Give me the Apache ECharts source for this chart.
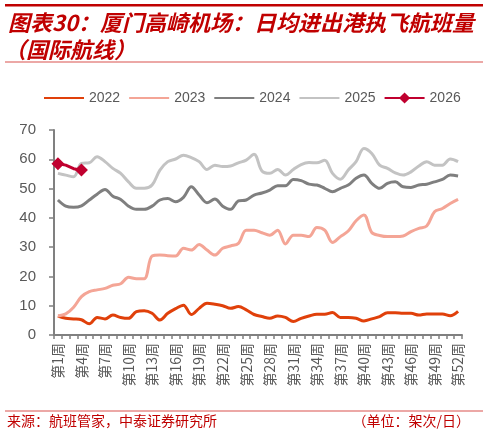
<!DOCTYPE html>
<html>
<head>
<meta charset="utf-8">
<script src="https://cdn.jsdelivr.net/npm/echarts@6/dist/echarts.min.js"></script>
<style>
  html, body { margin: 0; padding: 0; background: #fff; }
  #chart { width: 488px; height: 435px; }
</style>
</head>
<body>
<div id="chart"></div>
<script>
// 周次
const weeks = [];
for (let i = 1; i <= 52; i++) weeks.push("第" + i + "周");

// 日均进出港执飞航班量（架次/日）
const y2022 = [6.5, 5.7, 5.5, 5.2, 3.8, 6.0, 5.5, 6.8, 6.0, 5.7,
    8.0, 8.3, 7.4, 5.1, 7.4, 9.0, 10.2, 7.0, 9.1, 10.8,
    10.5, 10.0, 9.1, 9.7, 8.6, 7.0, 6.3, 5.7, 6.5, 6.0,
    4.6, 5.7, 6.5, 7.1, 7.1, 7.7, 6.0, 6.0, 5.7, 4.8,
    5.5, 6.3, 7.6, 7.6, 7.4, 7.4, 6.8, 7.2, 7.2, 7.2,
    6.6, 8.1];
const y2023 = [6.5, 7.2, 9.5, 13.1, 14.8, 15.4, 15.9, 17.0, 17.5, 19.7,
    19.2, 19.2, 27.0, 27.3, 27.1, 27.0, 29.6, 29.0, 30.9, 29.0,
    27.3, 29.6, 30.4, 31.3, 35.8, 35.8, 34.9, 34.1, 35.8, 31.1,
    34.1, 34.1, 33.6, 36.7, 35.8, 31.6, 33.6, 35.5, 39.0, 41.0,
    35.0, 34.0, 33.6, 33.6, 33.8, 35.3, 36.4, 37.2, 42.1, 43.2,
    44.9, 46.3];
const y2024 = [46.1, 44.0, 43.6, 44.1, 46.1, 48.1, 49.7, 47.4, 46.3, 44.0,
    42.9, 42.9, 44.0, 46.1, 46.6, 45.5, 47.0, 50.6, 47.8, 45.2,
    46.4, 44.0, 42.9, 45.8, 46.1, 47.8, 48.5, 49.5, 51.0, 51.0,
    53.1, 52.7, 51.5, 51.2, 50.1, 48.9, 50.1, 51.2, 53.5, 54.6,
    51.8, 50.1, 51.8, 52.3, 50.6, 50.4, 51.2, 51.5, 52.3, 53.1,
    54.6, 54.3];
const y2025 = [55.2, 54.6, 54.0, 58.6, 58.8, 60.9, 59.2, 56.9, 55.2, 52.3,
    50.1, 50.1, 51.2, 56.3, 59.2, 60.1, 61.4, 60.6, 59.2, 56.5,
    58.0, 57.5, 57.7, 58.8, 59.7, 61.7, 56.0, 55.2, 56.5, 54.6,
    56.5, 58.2, 58.9, 58.8, 59.7, 55.2, 53.2, 56.3, 59.2, 63.7,
    62.0, 58.0, 56.9, 55.4, 54.6, 55.7, 57.7, 59.2, 58.0, 58.0,
    60.1, 59.2];
const y2026 = [58.5, 58.0, 56.8, 56.3];

const yTicks = { min: 0, max: 70, step: 10 };

const red = "#C00000";
const cjk = "'Noto Sans CJK SC', 'Noto Sans', sans-serif";

const chart = echarts.init(document.getElementById("chart"));

function lineSeries(name, data, color, z) {
    return {
        name: name,
        type: "line",
        data: data,
        symbol: "none",
        smooth: 0.35,
        z: z,
        lineStyle: { color: color, width: 3 },
        itemStyle: { color: color }
    };
}

// 折线图例只画线，不画圆点
const plainLegend = name => ({ name: name, itemStyle: { opacity: 0 } });

const option = {
    animation: false,
    backgroundColor: "#fff",
    textStyle: { fontFamily: cjk },
    grid: { left: 54, right: 26, top: 130, bottom: 100 },
    legend: {
        top: 86,
        left: 38,
        width: 460,
        itemWidth: 40,
        itemHeight: 14,
        itemGap: 8,
        textStyle: { color: "#595959", fontSize: 14, fontFamily: "'Liberation Sans', sans-serif" },
        data: [plainLegend("2022"), plainLegend("2023"), plainLegend("2024"), plainLegend("2025"), "2026"]
    },
    xAxis: {
        type: "category",
        data: weeks,
        boundaryGap: true,
        axisLine: { lineStyle: { color: "#808080", width: 2 } },
        axisTick: { show: true, interval: 0, length: 4, lineStyle: { color: "#808080", width: 1.5 } },
        axisLabel: { interval: 2, rotate: 90, color: "#595959", fontSize: 14, margin: 8, fontFamily: cjk }
    },
    yAxis: {
        type: "value",
        min: yTicks.min,
        max: yTicks.max,
        interval: yTicks.step,
        axisLine: { show: true, lineStyle: { color: "#808080", width: 2 } },
        axisTick: { show: true, length: 5, lineStyle: { color: "#808080", width: 1.5 } },
        splitLine: { show: false },
        axisLabel: { color: "#595959", fontSize: 15, margin: 18, fontFamily: "'Liberation Sans', sans-serif" }
    },
    series: [
        lineSeries("2022", y2022, "#E0400A", 2),
        lineSeries("2023", y2023, "#F4A596", 2),
        lineSeries("2024", y2024, "#7F7F7F", 2),
        lineSeries("2025", y2025, "#C3C3C3", 1),
        {
            name: "2026",
            type: "line",
            data: y2026,
            symbol: "diamond",
            symbolSize: 13,
            z: 5,
            lineStyle: { color: "#C0002F", width: 3 },
            itemStyle: { color: "#C0002F" }
        }
    ],
    graphic: [
        { type: "rect", shape: { x: 5, y: 4, width: 478, height: 2.5 }, style: { fill: red } },
        {
            type: "text", left: 8, top: 12,
            style: { text: "图表30：厦门高崎机场：日均进出港执飞航班量", fill: red,
                font: "italic bold 22px " + cjk }
        },
        {
            type: "text", left: 4, top: 39,
            style: { text: "（国际航线）", fill: red, font: "italic bold 22px " + cjk }
        },
        { type: "rect", shape: { x: 5, y: 61.5, width: 478, height: 1 }, style: { fill: "#D9534F" } },
        { type: "rect", shape: { x: 5, y: 410.5, width: 478, height: 1 }, style: { fill: "#D9534F" } },
        {
            type: "text", left: 7, top: 414,
            style: { text: "来源：航班管家，中泰证券研究所", fill: red, font: "14px " + cjk }
        },
        {
            type: "text", right: 18, top: 414,
            style: { text: "（单位：架次/日）", fill: red, font: "14px " + cjk }
        }
    ]
};

chart.setOption(option);
</script>
</body>
</html>
